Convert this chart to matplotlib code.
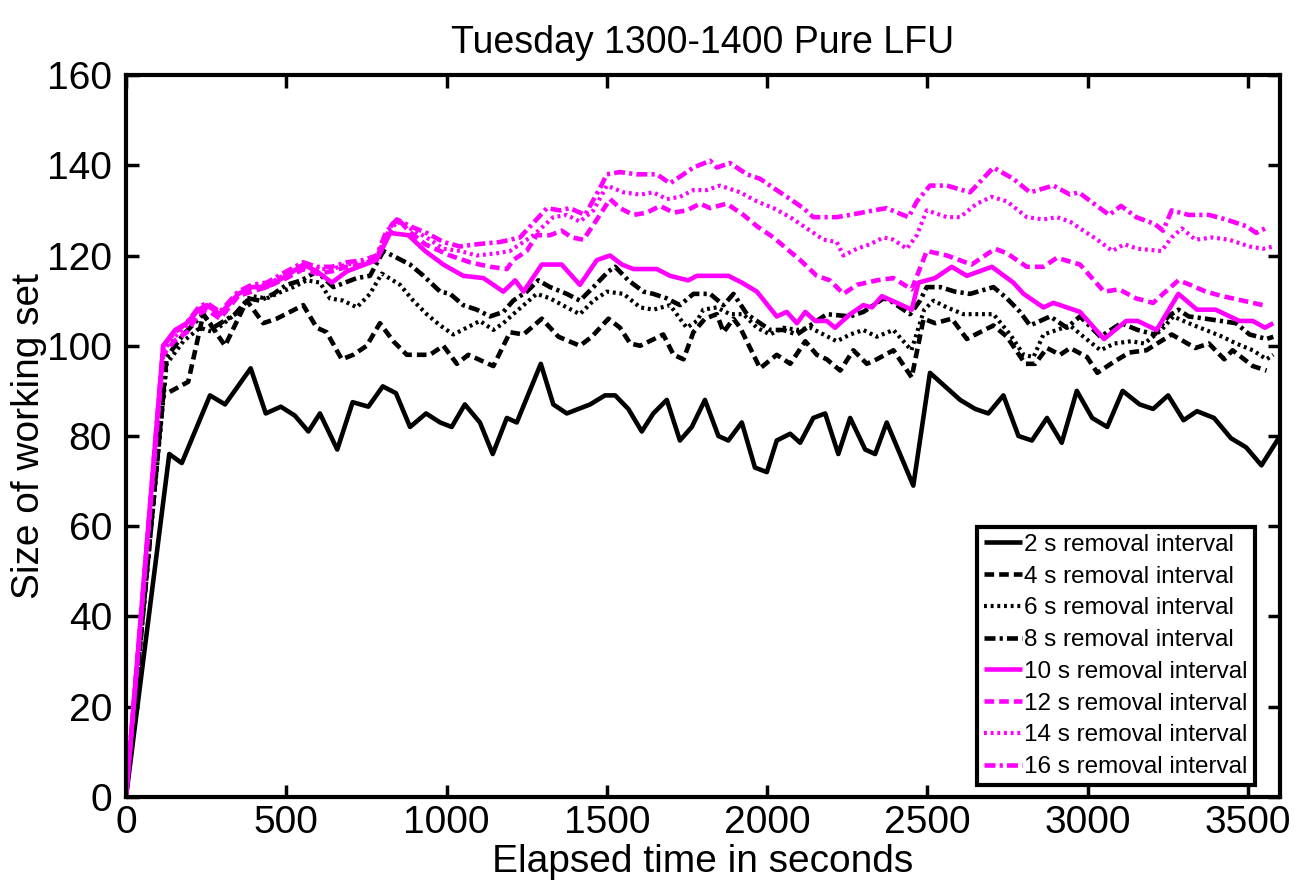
import matplotlib
matplotlib.use("Agg")
import matplotlib.pyplot as plt

plt.rcParams['font.family'] = ['Liberation Sans', 'DejaVu Sans']

# elapsed time (s) and working-set size, one pair of lists per removal interval
t2 = [0, 135, 174, 262, 309, 389, 436, 483, 527, 569, 605, 659, 707, 756, 801, 842, 886, 936, 980, 1016,
      1057, 1104, 1144, 1188, 1219, 1294, 1333, 1375, 1448, 1494, 1526, 1567, 1609, 1645, 1687, 1728, 1765, 1806, 1848, 1879,
      1921, 1962, 1999, 2030, 2072, 2103, 2144, 2181, 2222, 2259, 2306, 2337, 2373, 2456, 2508, 2555, 2602, 2649, 2690, 2737,
      2784, 2826, 2873, 2919, 2966, 3014, 3061, 3109, 3162, 3204, 3251, 3299, 3341, 3394, 3447, 3494, 3542, 3600]
v2 = [0, 76, 74, 89, 87, 95, 85, 86.5, 84.5, 81, 85, 77, 87.5, 86.5, 91, 89.5, 82, 85, 83, 82,
      87, 83, 76, 84, 83, 96, 87, 85, 87, 89, 89, 86, 81, 85, 88, 79, 82, 88, 80, 79,
      83, 73, 72, 79, 80.5, 78.5, 84, 85, 76, 84, 77, 76, 83, 69, 94, 91, 88, 86, 85, 89,
      80, 79, 84, 78.5, 90, 84, 82, 90, 87, 86, 89, 83.5, 85.5, 84, 79.5, 77.5, 73.5, 80]

t4 = [0, 116, 194, 241, 309, 377, 428, 470, 553, 595, 626, 673, 709, 751, 792, 834, 876, 948, 990, 1032,
      1068, 1146, 1198, 1240, 1297, 1349, 1416, 1453, 1505, 1541, 1573, 1604, 1676, 1708, 1739, 1770, 1806, 1843, 1864, 1895,
      1916, 1978, 2030, 2072, 2119, 2155, 2186, 2228, 2269, 2311, 2342, 2394, 2451, 2488, 2524, 2576, 2623, 2664, 2706, 2748,
      2805, 2836, 2873, 2914, 2945, 2998, 3030, 3083, 3130, 3183, 3262, 3336, 3378, 3426, 3452, 3515, 3558]
v4 = [0, 89, 92, 107, 100, 110, 105, 106, 109, 104, 103, 97, 98, 100, 105, 101, 98, 98, 100, 96,
      98, 95.5, 103, 102.5, 106, 102, 100, 102, 106, 104, 100.5, 100, 102.5, 98, 97, 103, 106, 107, 103, 106,
      104, 95, 98, 96, 101, 98, 97, 94.5, 99, 96, 97, 99, 93, 106, 105, 106, 101.5, 103, 104.5, 102,
      96, 96, 99.5, 98, 99.5, 97.5, 94, 96.5, 98.5, 99, 102.5, 99.5, 100.5, 97, 99, 95.5, 94.5]

t6 = [0, 127, 179, 231, 272, 340, 392, 439, 486, 522, 564, 605, 636, 678, 720, 761, 798, 855, 896, 938,
      980, 1021, 1063, 1104, 1146, 1177, 1208, 1281, 1323, 1375, 1416, 1458, 1500, 1552, 1604, 1645, 1697, 1749, 1781, 1801,
      1843, 1884, 1926, 1968, 2009, 2051, 2093, 2134, 2176, 2217, 2259, 2300, 2342, 2394, 2450, 2490, 2519, 2561, 2612, 2706,
      2758, 2800, 2831, 2862, 2904, 2945, 2987, 3040, 3083, 3135, 3177, 3230, 3267, 3315, 3368, 3420, 3463, 3515, 3558, 3579]
v6 = [0, 96, 101, 104, 103, 107, 111, 110.5, 112, 113, 114.5, 114, 110.5, 110, 108.5, 111.5, 116, 113.5, 110, 107,
      104.5, 102.5, 104, 105.5, 103.5, 105, 107, 111.5, 110.5, 108.5, 107, 110, 112, 111.5, 108.5, 108, 109, 104, 105.5, 108,
      108.5, 107, 107, 104, 102.5, 104, 103.5, 104, 102.5, 101, 102.5, 103.5, 102, 103.5, 99, 108, 110, 108.5, 107, 107,
      102.5, 98, 97.5, 102.5, 103.5, 104.5, 102, 99, 100.5, 101, 100.5, 103.5, 106.5, 105, 103.5, 102, 100.5, 99, 97, 98]

t8 = [0, 127, 179, 241, 272, 340, 382, 418, 460, 501, 548, 595, 647, 720, 761, 803, 845, 886, 928, 980,
      1011, 1052, 1094, 1136, 1177, 1208, 1250, 1286, 1323, 1375, 1416, 1458, 1505, 1526, 1567, 1614, 1645, 1687, 1728, 1770,
      1822, 1864, 1895, 1937, 1968, 2009, 2051, 2093, 2186, 2259, 2300, 2332, 2363, 2384, 2446, 2477, 2498, 2540, 2586, 2633,
      2706, 2748, 2789, 2820, 2883, 2935, 2976, 3040, 3104, 3156, 3209, 3251, 3283, 3315, 3368, 3463, 3505, 3558, 3579]
v8 = [0, 97.5, 102.5, 107, 104, 107, 110.5, 110, 111.5, 113.5, 114.5, 116.5, 113, 115, 115.5, 121, 119.5, 118, 115.5, 112,
      111.5, 109, 108, 106.5, 107.5, 110, 112, 114.5, 113, 111.5, 110, 113, 116.5, 117.5, 114.5, 112, 111.5, 110.5, 109, 111.5,
      111.5, 109, 111.5, 107, 105.5, 103.5, 103.5, 102.5, 107, 106.5, 107.5, 109, 110.5, 110, 107, 110, 113, 113, 112, 111.5,
      113, 110.5, 107.5, 104.5, 106.5, 104, 106.5, 102, 105, 103.5, 102.5, 106.5, 108, 106.5, 106, 105, 102.5, 101.5, 102]

t10 = [0, 116, 153, 189, 226, 252, 293, 350, 392, 439, 501, 553, 595, 642, 689, 782, 824, 881, 933, 990,
       1052, 1115, 1177, 1214, 1240, 1297, 1359, 1416, 1469, 1510, 1547, 1583, 1656, 1697, 1754, 1781, 1879, 1921, 1968, 2030,
       2061, 2093, 2119, 2150, 2186, 2212, 2259, 2300, 2327, 2358, 2405, 2451, 2472, 2524, 2576, 2623, 2701, 2768, 2800, 2862,
       2893, 2935, 2976, 3051, 3120, 3156, 3215, 3283, 3341, 3399, 3473, 3515, 3553, 3579]
v10 = [0, 100, 103.5, 105, 108, 109, 107, 111.5, 113, 113, 115.5, 118, 116.5, 114, 116.5, 119, 125, 124.5, 121, 118,
       115.5, 115, 112, 114.5, 112, 118, 118, 113.5, 119, 120, 118, 117, 117, 115.5, 114.5, 115.5, 115.5, 114, 112, 106.5,
       107.5, 105, 107.5, 105.5, 105.5, 104, 107, 109, 108.5, 111, 109.5, 108, 114, 115, 117.5, 115.5, 117.5, 114, 111.5, 108.5,
       109.5, 108.5, 107.5, 101.5, 105.5, 105.5, 103.5, 111.5, 108, 108, 105.5, 105.5, 104, 105]

t12 = [0, 116, 150, 190, 226, 252, 293, 350, 392, 439, 501, 553, 595, 642, 689, 740, 782, 803, 830, 850,
       881, 933, 1011, 1073, 1136, 1188, 1208, 1250, 1281, 1323, 1359, 1391, 1427, 1469, 1510, 1541, 1583, 1625, 1666, 1708,
       1749, 1791, 1822, 1874, 1926, 1968, 2020, 2061, 2103, 2155, 2196, 2238, 2280, 2342, 2394, 2451, 2498, 2561, 2638, 2711,
       2748, 2810, 2862, 2904, 2976, 3051, 3098, 3151, 3204, 3235, 3283, 3320, 3368, 3420, 3484, 3547]
v12 = [0, 98, 101, 103, 107, 108, 106, 111, 112, 113, 115, 117, 116, 116.5, 117.5, 118, 119.5, 123, 127, 128,
       125.5, 122.5, 120, 118.5, 117.5, 117, 119, 121, 124.5, 124.5, 125.5, 124, 123.5, 128, 132.5, 130.5, 129, 129.5, 131, 129.5,
       130, 131.5, 130.5, 131.5, 129, 126.5, 124, 121.5, 119, 115.5, 114.5, 111.5, 113.5, 114.5, 115, 112.5, 121, 120, 118, 121.5,
       120.5, 117.5, 117.5, 119.5, 118, 112, 112.5, 110.5, 109.5, 111.5, 114.5, 113.5, 112, 111, 110, 109]

t14 = [0, 116, 153, 189, 226, 252, 293, 350, 392, 439, 501, 553, 595, 642, 689, 740, 782, 810, 845, 886,
       938, 990, 1042, 1094, 1157, 1198, 1271, 1333, 1375, 1416, 1458, 1500, 1552, 1604, 1645, 1687, 1728, 1770, 1811, 1853,
       1916, 1968, 2020, 2072, 2124, 2176, 2217, 2238, 2280, 2321, 2363, 2394, 2436, 2467, 2498, 2561, 2602, 2654, 2701, 2748,
       2810, 2862, 2904, 2945, 2987, 3030, 3077, 3114, 3156, 3230, 3262, 3294, 3336, 3389, 3441, 3505, 3547, 3579]
v14 = [0, 99, 102, 104.5, 108, 109, 107, 111.5, 113, 113.5, 116, 118, 117, 117, 118, 118.5, 119, 124, 127.5, 126,
       124, 121.5, 121, 120, 120.5, 121, 124.5, 128.5, 129, 127.5, 130, 135.5, 134, 133.5, 134, 132.5, 133, 134.5, 134.5, 135.5,
       134, 132, 130.5, 128.5, 126, 123.5, 123, 120, 121.5, 122.5, 124, 123.5, 121.5, 124.5, 130, 128.5, 128.5, 131.5, 133, 132,
       128.5, 128, 128.5, 127.5, 125.5, 123.5, 121, 122.5, 121.5, 121, 124, 126, 123.5, 124, 123.5, 122, 121.5, 122]

t16 = [0, 116, 153, 189, 226, 252, 293, 350, 392, 439, 501, 553, 595, 642, 689, 740, 782, 810, 845, 886,
       938, 990, 1042, 1094, 1167, 1229, 1313, 1354, 1385, 1432, 1479, 1500, 1541, 1593, 1656, 1697, 1739, 1770, 1822, 1843,
       1884, 1937, 1978, 2030, 2072, 2113, 2144, 2217, 2259, 2332, 2373, 2441, 2467, 2508, 2561, 2633, 2706, 2768, 2820, 2893,
       2945, 2972, 3019, 3067, 3104, 3151, 3209, 3235, 3262, 3315, 3378, 3431, 3495, 3526, 3553]
v16 = [0, 100, 103, 105, 108.5, 109.5, 107.5, 112, 113.5, 114, 116.5, 118.5, 117.5, 117.5, 118.5, 119, 120, 125, 128, 126.5,
       125, 123, 122, 122.5, 123, 124, 130.5, 130, 130.5, 129, 135, 138, 138.5, 138, 138, 136, 138, 139.5, 141, 139.5,
       140.5, 138, 137, 134.5, 132.5, 130.5, 128.5, 128.5, 129, 130, 130.5, 128.5, 132, 135.5, 135.5, 134, 139.5, 137, 134, 135.5,
       133.5, 134, 131.5, 129, 131, 128.5, 127, 125.5, 130, 129, 129, 128, 126.5, 125, 126]

labels = ['2 s removal interval', '4 s removal interval', '6 s removal interval', '8 s removal interval',
          '10 s removal interval', '12 s removal interval', '14 s removal interval', '16 s removal interval']

series = [(t2, v2), (t4, v4), (t6, v6), (t8, v8), (t10, v10), (t12, v12), (t14, v14), (t16, v16)]
colors = ['black'] * 4 + ['#ff00ff'] * 4
styles = [(0, ()), (0, (2.1, 1.1)), (0, (0.7, 0.9)), (0, (2.4, 0.9, 0.7, 0.9))] * 2
widths = [3.3, 3.3, 3.0, 3.3] * 2

fig = plt.figure(figsize=(12.99, 8.86), dpi=100)
ax = fig.add_axes([0.097, 0.1005, 0.8884, 0.8148])

for (t, v), c, ls, lw, lab in zip(series, colors, styles, widths, labels):
    ax.plot(t, v, color=c, linestyle=ls, linewidth=lw, label=lab)

ax.set_xlim(0, 3600)
ax.set_ylim(0, 160)
ax.set_xticks(range(0, 3600, 500))
ax.set_yticks(range(0, 161, 20))
ax.tick_params(direction='in', length=9, width=2.5, labelsize=28, top=True, right=True)
ax.tick_params(axis='x', pad=6)
ax.tick_params(axis='y', pad=10)
for sp in ax.spines.values():
    sp.set_linewidth(3)

ax.set_title('Tuesday 1300-1400 Pure LFU', fontsize=27, pad=16)
ax.set_xlabel('Elapsed time in seconds', fontsize=28, labelpad=2)
ax.set_ylabel('Size of working set', fontsize=28, labelpad=0)

leg = ax.legend(loc='lower right', bbox_to_anchor=(0.978, 0.016), borderaxespad=0, fontsize=17.5,
                handlelength=1.55, handletextpad=0.08, labelspacing=0.4, borderpad=0.3,
                fancybox=False, framealpha=1, edgecolor='black')
leg.get_frame().set_linewidth(3)

fig.savefig('out.png', dpi=100)
